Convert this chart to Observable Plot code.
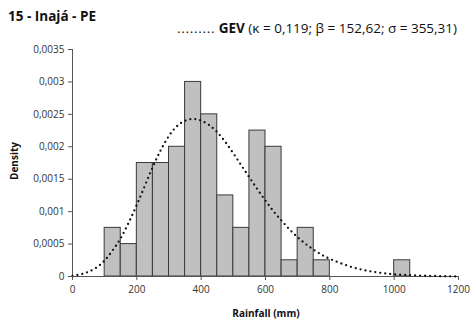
<!DOCTYPE html>
<html><head><meta charset="utf-8">
<script src="https://cdn.jsdelivr.net/npm/d3@7"></script>
<script src="https://cdn.jsdelivr.net/npm/@observablehq/plot@0.6"></script>
<style>
body{margin:0;background:#fff;font-family:"Open Sans",Lato,sans-serif;}
#wrap{position:relative;width:474px;height:320px;}
.t{position:absolute;white-space:nowrap;color:#111;line-height:1;}
#title{left:8px;top:10px;font-size:13.5px;font-weight:bold;}
#legend{left:177px;top:22px;font-size:13.5px;}
#dots{letter-spacing:0.7px;}
#xl{left:266px;top:313px;transform:translate(-50%,-50%);font-size:10px;font-weight:bold;}
#yl{left:14px;top:161px;font-size:10px;font-weight:bold;transform:translate(-50%,-50%) rotate(-90deg);}
svg{position:absolute;left:0;top:0;}
</style></head>
<body><div id="wrap">
<div class="t" id="title">15 - Inajá - PE</div>
<div class="t" id="legend"><span id="dots">.........</span> <b>GEV</b> (κ = 0,119; β = 152,62; σ = 355,31)</div>
<div class="t" id="xl">Rainfall (mm)</div>
<div class="t" id="yl">Density</div>
</div>
<script>
const binStart = [100,150,200,250,300,350,400,450,500,550,600,650,700,750,1000];
const binEnd   = [150,200,250,300,350,400,450,500,550,600,650,700,750,800,1050];
const density  = [0.00075,0.0005,0.00175,0.00175,0.002,0.003,0.0025,0.00125,0.00075,0.00225,0.002,0.00025,0.00075,0.00025,0.00025];
const gevX = [0,25,50,75,100,125,150,175,200,225,250,275,300,325,350,375,400,425,450,475,500,525,550,575,600,625,650,675,700,725,750,775,800,850,900,950,1000,1050,1100,1150,1200];
const gevY = [0.00001,0.00003,0.00007,0.00013,0.00024,0.0004,0.00058,0.00083,0.0011,0.0014,0.0017,0.00196,0.00218,0.00233,0.00241,0.00244,0.00241,0.00234,0.00223,0.00208,0.0019,0.00171,0.00153,0.00134,0.00117,0.001,0.00086,0.00072,0.0006,0.0005,0.00041,0.00033,0.00027,0.00017,0.0001,0.00006,0.00003,0.00002,0.00001,0.000005,0];
const xTicks = [0,200,400,600,800,1000,1200];
const yTicks = [0,0.0005,0.001,0.0015,0.002,0.0025,0.003,0.0035];

const bars = binStart.map((s,i)=>({x1:s,x2:binEnd[i],y:density[i]}));
const curve = gevX.map((x,i)=>({x,y:gevY[i]}));
const fmt = d => String(+d.toFixed(4)).replace(".", ",");

const chart = Plot.plot({
  width:474, height:320,
  marginLeft:72, marginRight:16, marginTop:49, marginBottom:44,
  style:{fontFamily:"'Open Sans', Lato, sans-serif", fontSize:"10px", color:"#333", background:"transparent"},
  x:{domain:[0,1200], label:null},
  y:{domain:[0,0.0035], label:null},
  marks:[
    Plot.rectY(bars,{x1:"x1",x2:"x2",y:"y",fill:"#c0c0c0",stroke:"#3a3a3a",strokeWidth:1}),
    Plot.ruleX([0],{stroke:"#555"}),
    Plot.ruleY([0],{stroke:"#555"}),
    Plot.line(curve,{x:"x",y:"y",curve:"basis",stroke:"#111",strokeWidth:2.3,strokeDasharray:"0,5",strokeLinecap:"round"}),
    Plot.axisX({ticks:xTicks,tickSize:4,tickPadding:5,tickFormat:d=>String(d),stroke:"#555"}),
    Plot.axisY({ticks:yTicks,tickSize:4,tickPadding:4,tickFormat:fmt,stroke:"#555"})
  ]
});
document.getElementById("wrap").appendChild(chart);
</script>
</body></html>
